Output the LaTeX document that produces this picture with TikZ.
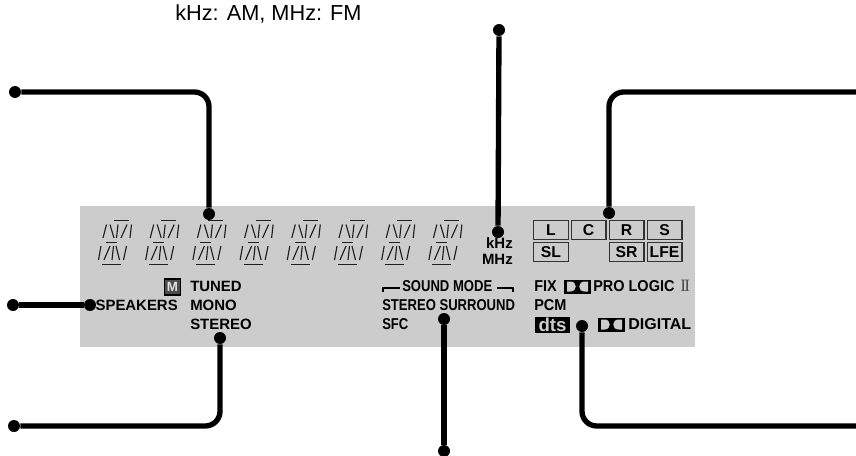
\documentclass[tikz,border=0pt]{standalone}
\usepackage{fontspec}
\setmainfont{Liberation Sans}
\newfontfamily\lcd{Liberation Sans}
\newfontfamily\lcdnar[FakeStretch=0.83]{Liberation Sans}
\newfontfamily\lcdmid[FakeStretch=0.92]{Liberation Sans}
\newfontfamily\lcdwide[FakeStretch=1.02]{Liberation Sans}
\newfontfamily\lcdserif{Liberation Serif}
\definecolor{panel}{HTML}{CCCCCC}
\definecolor{seg}{HTML}{1E1E1E}
\tikzset{
 dot/.style={circle,fill=black,inner sep=0pt,minimum size=9pt},
 conn/.style={line width=4pt,black,rounded corners=11pt},
 lab/.style={inner sep=0pt,anchor=west,font=\lcd\bfseries\fontsize{11.2}{13}\selectfont,text=black},
 labe/.style={lab,anchor=east},
 labnar/.style={lab,font=\lcdnar\bfseries\fontsize{11.8}{13}\selectfont},
 labmid/.style={lab,font=\lcdmid\bfseries\fontsize{11.8}{13}\selectfont},
 labwide/.style={lab,font=\lcdwide\bfseries\fontsize{11.8}{13}\selectfont},
 chan/.style={draw=black!80,line width=1pt,fill=panel,minimum width=26pt,minimum height=14pt,inner sep=0pt,font=\lcd\bfseries\fontsize{11.8}{13}\selectfont,text=black},
 segline/.style={line width=.85pt,seg},
}
\newcommand{\dolby}[2]{%
 \begin{scope}[shift={(#1,#2)}]
  \fill[black] (0,0) rectangle (27,14);
  \fill[panel] (3,2) -- (6.5,2) .. controls (13.5,2) and (13.5,12) .. (6.5,12) -- (3,12) -- cycle;
  \fill[panel] (24,2) -- (20.5,2) .. controls (13.5,2) and (13.5,12) .. (20.5,12) -- (24,12) -- cycle;
  \fill[black] (12.6,0) rectangle (14.4,14);
 \end{scope}}
\newcommand{\lcdchar}[1]{%
 \begin{scope}[shift={(#1,0)}]
  \draw[segline] (114,220.3) -- (129,220.3) (106,242.3) -- (117,242.3) (102,264.3) -- (121,264.3);
  \draw[segline] (103,238) -- (106.5,224.5) (110,224.5) -- (114,238) (116.5,238) -- (118,224.5) (121,238) -- (127,224.5) (130,238) -- (131.5,224.5);
  \draw[segline] (98.5,260) -- (101,246) (104,260) -- (110,246) (112,260) -- (113.5,246) (116,246) -- (119.5,260) (123.5,260) -- (126.5,246);
 \end{scope}}
\begin{document}
\begin{tikzpicture}[x=0.75pt,y=-0.75pt]
\useasboundingbox (0,0) rectangle (856,456);
\fill[panel] (80,206) rectangle (695,347);
\foreach \i in {0,...,7}{\lcdchar{\i*47.2}}
% labels
\node[inner sep=0pt,anchor=west,font=\fontsize{16.3}{19}\selectfont] (freq) at (175,14) {kHz: AM, MHz: FM};
\node[labe] (khz) at (513,243) {kHz};
\node[labe] (mhz) at (513,259) {MHz};
\node[chan] (chL) at (551,230) {L};
\node[chan] (chC) at (588.5,230) {C};
\node[chan] (chR) at (626.5,230) {R};
\node[chan] (chS) at (664.5,230) {S};
\node[chan] (chSL) at (551,252) {SL};
\node[chan] (chSR) at (626.5,252) {SR};
\node[chan] (chLFE) at (664.5,252) {LFE};
\node[draw=black,line width=1.2pt,fill=black!70,text=black!12,inner sep=0pt,minimum width=12pt,minimum height=12pt,font=\lcd\bfseries\fontsize{10}{10}\selectfont] (mbox) at (172.5,287) {M};
\node[lab] (tuned) at (190,286) {TUNED};
\node[labe] (speakers) at (178,305) {SPEAKERS};
\node[lab] (mono) at (190,305) {MONO};
\node[lab] (stereo) at (190,324) {STEREO};
\node[labnar] (soundmode) at (402,286) {SOUND MODE};
\node[labnar] (surround) at (382,305) {STEREO SURROUND};
\node[labnar] (sfc) at (382,324) {SFC};
\draw[line width=1.6pt,black] (383,292) -- (383,288) -- (400,288);
\draw[line width=1.6pt,black] (497,288) -- (513,288) -- (513,292);
\node[labmid] (fix) at (534,286) {FIX};
\dolby{564}{279.5}
\node[labmid] (prologic) at (593,286) {PRO LOGIC};
\node[inner sep=0pt,anchor=west,font=\lcdserif\fontsize{13}{14}\selectfont,text=black!70] (two) at (680,286) {I\kern-1.3pt I};
\node[labmid] (pcm) at (534,305) {PCM};
\node[fill=black,text=panel,inner sep=0pt,minimum width=26pt,minimum height=12pt,font=\lcd\bfseries\fontsize{14}{14}\selectfont] (dts) at (552.5,325) {dts};
\dolby{598}{317.5}
\node[labwide] (digital) at (628,324.5) {DIGITAL};
% dots
\node[dot] (a1) at (15,92) {};
\node[dot] (a2) at (209,214) {};
\node[dot] (b1) at (13,305) {};
\node[dot] (b2) at (90,305) {};
\node[dot] (c1) at (14,426) {};
\node[dot] (c2) at (220,338) {};
\node[dot] (d1) at (444,451) {};
\node[dot] (d2) at (444,319) {};
\node[dot] (e1) at (499,30) {};
\node[dot] (e2) at (498,232) {};
\node[dot] (f2) at (609,213) {};
\node[dot] (g2) at (582,326) {};
\coordinate (f1) at (856,92);
\coordinate (g1) at (856,426);
% connectors
\draw[conn] (a1) -| (a2);
\draw[conn] (b1) -- (b2);
\draw[conn] (c1) -| (c2);
\draw[conn] (d1) -- (d2);
\draw[conn] (e1) -- (e2);
\draw[conn] (f1) -| (f2);
\draw[conn] (g1) -| (g2);
\end{tikzpicture}
\end{document}
